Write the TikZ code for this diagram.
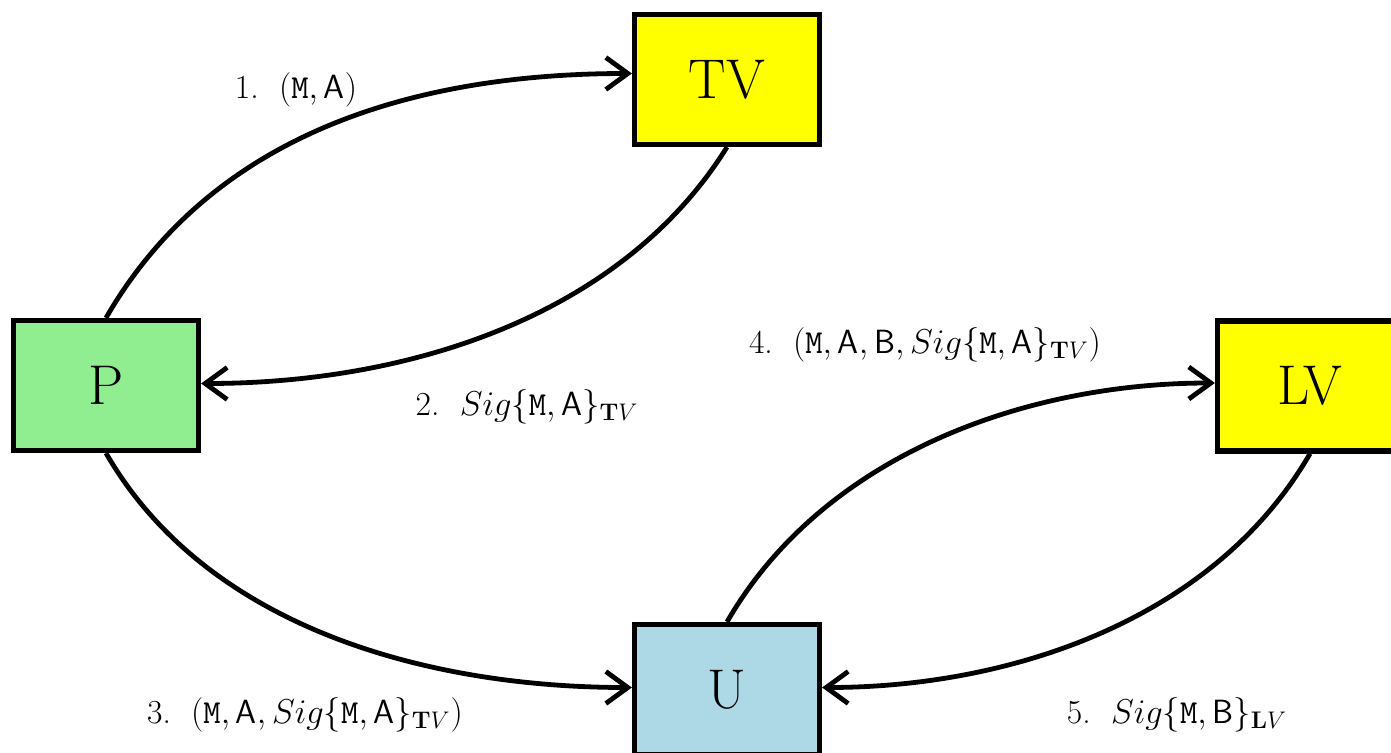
\documentclass[tikz,border=0pt]{standalone}
\usetikzlibrary{arrows.meta}
\newcommand\tM{\texttt{M}}
\newcommand\sA{\textsf{A}}
\newcommand\sB{\textsf{B}}
\definecolor{boxyellow}{RGB}{255,255,0}
\definecolor{boxgreen}{RGB}{144,238,144}
\definecolor{boxblue}{RGB}{173,216,230}
\begin{document}
\begin{tikzpicture}[x=0.5pt,y=-0.5pt,
  box/.style={draw, line width=2.6pt, minimum width=92.5pt, minimum height=65pt, inner sep=0pt, font=\fontsize{28}{34}\selectfont},
  conn/.style={line width=2.4pt, -{Straight Barb[length=11pt,width=16pt,line width=2.4pt]}},
  lbl/.style={font=\fontsize{16.8}{20}\selectfont, inner sep=0pt}]
\useasboundingbox (0,0) rectangle (1391,753);
\clip (0,0) rectangle (1391,753);
\node[box, fill=boxyellow] (TV) at (727,79.5) {TV};
\node[box, fill=boxgreen] (P) at (106,385.5) {P};
\node[box, fill=boxyellow] (LV) at (1310,386) {LV};
\node[box, fill=boxblue] (U) at (727,689.5) {U};
\draw[conn] (P.north) to[out=60,in=180,looseness=0.95] ([yshift=3pt]TV.west);
\draw[conn] (TV.south) to[out=-122,in=0,looseness=0.9] ([yshift=1pt]P.east);
\draw[conn] (P.south) to[out=-60,in=180,looseness=0.9] ([yshift=1pt]U.west);
\draw[conn] (U.north) to[out=60,in=180,looseness=0.9] ([yshift=1.5pt]LV.west);
\draw[conn] (LV.south) to[out=-120,in=0,looseness=0.9] ([yshift=1pt]U.east);
\node[lbl] (l1) at (296,90) {1.\ \ $(\tM,\sA)$};
\node[lbl] (l2) at (527,407) {2.\ \ $Sig\{\tM,\sA\}_{\mathbf{T}V}$};
\node[lbl] (l3) at (305,715) {3.\ \ $(\tM,\sA,Sig\{\tM,\sA\}_{\mathbf{T}V})$};
\node[lbl] (l4) at (925,345) {4.\ \ $(\tM,\sA,\sB,Sig\{\tM,\sA\}_{\mathbf{T}V})$};
\node[lbl] (l5) at (1177,715) {5.\ \ $Sig\{\tM,\sB\}_{\mathbf{L}V}$};
\end{tikzpicture}
\end{document}
